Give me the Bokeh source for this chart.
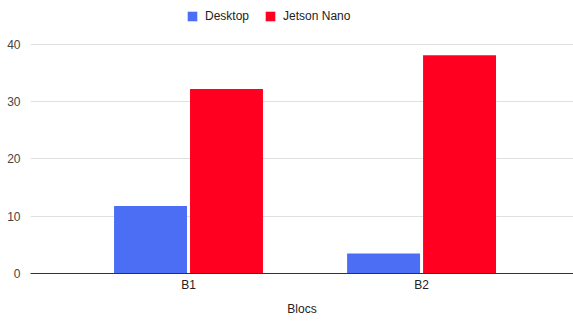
from bokeh.plotting import figure
from bokeh.models import ColumnDataSource, Range1d, FixedTicker, Legend, LegendItem, Title
from bokeh.transform import dodge
from bokeh.embed import file_html
from bokeh.resources import INLINE

categories = ["B1", "B2"]
desktop = [11.8, 3.5]
jetson = [32.2, 38.1]
y_ticks = [0, 10, 20, 30, 40]
x_title = "Blocs"

FONT = "Liberation Sans"
BLUE = "#4b6ef5"
RED = "#ff0020"

x = list(range(len(categories)))
src = ColumnDataSource(dict(x=x, desktop=desktop, jetson=jetson))

p = figure(width=573, height=324, output_backend="svg", toolbar_location=None,
           x_range=Range1d(-0.678, 1.652), y_range=Range1d(0, 46.26),
           min_border_left=30, min_border_right=0, min_border_top=8, min_border_bottom=50)
p.outline_line_color = None
p.background_fill_color = "white"
p.border_fill_color = "white"

r1 = p.vbar(x=dodge("x", -0.163, range=p.x_range), top="desktop", width=0.313,
            source=src, fill_color=BLUE, line_color=None)
r2 = p.vbar(x=dodge("x", 0.163, range=p.x_range), top="jetson", width=0.313,
            source=src, fill_color=RED, line_color=None)

p.xgrid.grid_line_color = None
p.ygrid.grid_line_color = "#e0e0e0"
p.ygrid.ticker = FixedTicker(ticks=y_ticks)

p.yaxis.ticker = FixedTicker(ticks=y_ticks)
p.yaxis.axis_line_color = None
p.yaxis.major_tick_line_color = None
p.yaxis.minor_tick_line_color = None
p.yaxis.major_label_standoff = 4
p.yaxis.major_label_text_font = FONT
p.yaxis.major_label_text_font_size = "12px"
p.yaxis.major_label_text_color = "#444444"

p.xaxis.ticker = FixedTicker(ticks=x)
p.xaxis.major_label_overrides = {i: c for i, c in zip(x, categories)}
p.xaxis.axis_line_color = "#333333"
p.xaxis.axis_line_width = 1
p.xaxis.major_tick_line_color = None
p.xaxis.minor_tick_line_color = None
p.xaxis.major_tick_out = 0
p.xaxis.major_label_standoff = 4
p.xaxis.major_label_text_font = FONT
p.xaxis.major_label_text_font_size = "12px"
p.xaxis.major_label_text_color = "#222222"

t = Title(text=x_title, align="center", offset=0, standoff=14,
          vertical_align="top",
          text_font=FONT, text_font_size="12px", text_font_style="normal",
          text_color="#222222")
p.add_layout(t, "below")

legend = Legend(items=[LegendItem(label="Desktop", renderers=[r1]),
                       LegendItem(label="Jetson Nano", renderers=[r2])],
                orientation="horizontal", location=(156, 250),
                border_line_color=None, background_fill_alpha=0,
                glyph_width=12, glyph_height=12, label_standoff=7, spacing=15,
                padding=0, margin=0,
                label_text_font=FONT, label_text_font_size="12px",
                label_text_color="#222222")
p.add_layout(legend)

open("out.html", "w").write(file_html(p, INLINE))
